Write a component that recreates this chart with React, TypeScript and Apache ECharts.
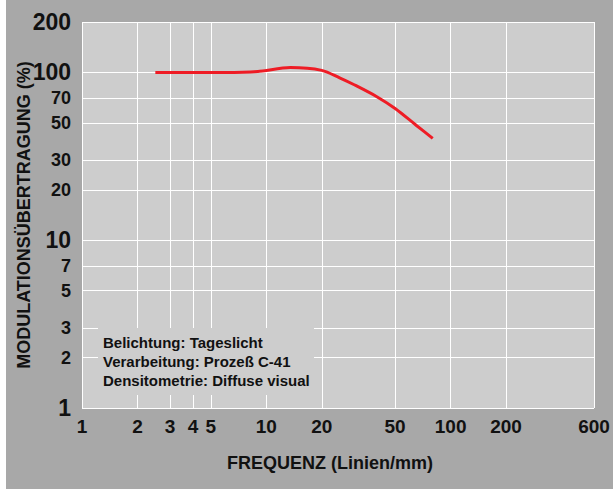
import React, { useEffect, useRef } from "react";
import * as echarts from "echarts";

// Curve: frequency (Linien/mm) vs modulation transfer (%)
const freq = [2.5, 6, 9, 13.5, 20, 25, 30, 40, 50, 65, 80];
const mtf = [100, 100, 101.5, 107, 103, 93, 84.5, 71.5, 61, 48.5, 40.5];

// Tick labels
const xTicks = [1, 2, 3, 4, 5, 10, 20, 50, 100, 200, 600];
const yTicks = [1, 2, 3, 5, 7, 10, 20, 30, 50, 70, 100, 200];
const yMajor = [1, 10, 100, 200];
const xMin = 1;
const xMax = 600;
const yMin = 1;
const yMax = 200;

const infoLines = [
  "Belichtung: Tageslicht",
  "Verarbeitung: Prozeß C-41",
  "Densitometrie: Diffuse visual",
];

const SANS = "'Liberation Sans', Arial, sans-serif";
const PLOT_BG = "#cdcdcd";
const OUTER_BG = "#a8a8a8";
const INK = "#111111";

export default function App() {
  const ref = useRef<HTMLDivElement>(null);
  useEffect(() => {
    if (!ref.current) return;
    const chart = echarts.init(ref.current, undefined, { renderer: "svg" });
    const lg = (v: number) => Math.log10(v);
    chart.setOption({
      animation: false,
      backgroundColor: OUTER_BG,
      grid: {
        left: 76,
        right: 19,
        top: 22,
        bottom: 81,
        show: true,
        backgroundColor: PLOT_BG,
        borderWidth: 0,
        containLabel: false,
        outerBoundsMode: "none",
      },
      xAxis: {
        type: "value",
        min: lg(xMin),
        max: lg(xMax),
        axisLine: { show: false },
        axisTick: {
          show: false,
          customValues: xTicks.map(lg),
        },
        splitLine: { show: true, lineStyle: { color: "#ffffff", width: 1 } },
        axisLabel: {
          customValues: xTicks.map(lg),
          margin: 9,
          fontFamily: SANS,
          fontWeight: "bold",
          fontSize: 19,
          color: INK,
          formatter: (v: number) => String(Math.round(Math.pow(10, v))),
        },
        name: "FREQUENZ (Linien/mm)",
        nameLocation: "middle",
        nameGap: 46,
        nameMoveOverlap: false,
        nameTextStyle: {
          fontFamily: SANS,
          fontWeight: "bold",
          fontSize: 18,
          color: INK,
          padding: [0, 16, 0, 0],
        },
      },
      yAxis: {
        type: "value",
        min: lg(yMin),
        max: lg(yMax),
        axisLine: { show: false },
        axisTick: {
          show: false,
          customValues: yTicks.map(lg),
        },
        splitLine: { show: true, lineStyle: { color: "#ffffff", width: 1 } },
        axisLabel: {
          customValues: yTicks.map(lg),
          margin: 11,
          color: INK,
          formatter: (v: number) => {
            const n = Math.round(Math.pow(10, v));
            return yMajor.includes(n) ? `{b|${n}}` : `{s|${n}}`;
          },
          rich: {
            b: { fontFamily: SANS, fontWeight: "bold", fontSize: 23, color: INK },
            s: { fontFamily: SANS, fontWeight: "bold", fontSize: 18, color: INK },
          },
        },
        name: "MODULATIONSÜBERTRAGUNG (%)",
        nameLocation: "middle",
        nameGap: 49,
        nameMoveOverlap: false,
        nameTextStyle: {
          fontFamily: SANS,
          fontWeight: "bold",
          fontSize: 18,
          color: INK,
        },
      },
      graphic: [
        {
          type: "group",
          z: 100,
          children: [
            {
              type: "rect",
              shape: { x: 92, y: 328, width: 216, height: 67 },
              style: { fill: PLOT_BG },
              z: 100,
            },
            {
              type: "text",
              x: 97,
              y: 333,
              z: 101,
              style: {
                text: infoLines.join("\n"),
                fontFamily: SANS,
                fontWeight: "bold",
                fontSize: 15,
                lineHeight: 19,
                fill: INK,
                verticalAlign: "top",
              },
            },
          ],
        },
      ],
      series: [
        {
          type: "line",
          data: freq.map((f, i) => [lg(f), lg(mtf[i])]),
          smooth: 0.3,
          showSymbol: false,
          symbol: "none",
          lineStyle: { color: "#ee1c25", width: 3 },
          z: 10,
        },
      ],
    });
    return () => chart.dispose();
  }, []);
  return (
    <div style={{ position: "fixed", left: 6, top: 0, width: 607, height: 489 }}>
      <div ref={ref} style={{ width: 607, height: 489 }} />
    </div>
  );
}
